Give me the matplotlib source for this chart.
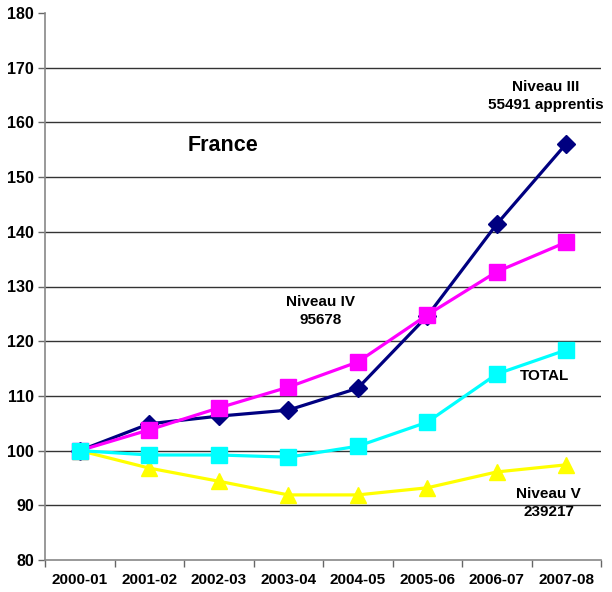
import matplotlib
matplotlib.use("Agg")
import matplotlib.pyplot as plt
import numpy as np

plt.rcParams['font.family'] = ['Liberation Sans', 'DejaVu Sans']

categories = ["2000-01", "2001-02", "2002-03", "2003-04", "2004-05", "2005-06", "2006-07", "2007-08"]
niveau_iii = [100, 104.9, 106.3, 107.4, 111.4, 124.6, 141.4, 156.1]
niveau_iv = [100, 103.8, 107.8, 111.6, 116.2, 124.8, 132.7, 138.1]
total = [100, 99.2, 99.2, 98.8, 100.8, 105.2, 114.0, 118.4]
niveau_v = [100, 96.8, 94.4, 91.9, 91.9, 93.2, 96.1, 97.4]

fig = plt.figure(figsize=(6.12, 5.92), dpi=100)
ax = fig.add_axes([45/612, 32/592, 556/612, 547/592])
x = np.arange(len(categories))

ax.plot(x, niveau_iii, color='#000080', lw=2.3, marker='D', ms=9.5, zorder=3)
ax.plot(x, niveau_iv, color='#FF00FF', lw=2.3, marker='s', ms=11, zorder=4)
ax.plot(x, niveau_v, color='#FFFF00', lw=2.3, marker='^', ms=12, zorder=4)
ax.plot(x, total, color='#00FFFF', lw=2.3, marker='s', ms=12, zorder=5)

ax.set_xlim(-0.5, 7.5)
ax.set_ylim(80, 180)
ax.set_yticks(np.arange(80, 181, 10))
for v in range(90, 180, 10):
    ax.axhline(v, color='#333333', lw=1.0, zorder=1)
ax.set_xticks(x)
ax.set_xticklabels(categories, fontsize=11, fontweight='bold')
ax.set_xticks(np.arange(-0.5, 8, 1), minor=True)
ax.tick_params(axis='x', which='major', length=0, pad=9)
ax.tick_params(axis='x', which='minor', length=5, color='#666666', width=1)
ax.tick_params(axis='y', length=5, color='#666666', width=1, pad=3)
for lab in ax.get_yticklabels():
    lab.set_fontweight('bold')
    lab.set_fontsize(11.5)
ax.spines['top'].set_visible(False)
ax.spines['right'].set_visible(False)
ax.spines['left'].set_color('#888888')
ax.spines['bottom'].set_color('#888888')
ax.spines['left'].set_linewidth(1.2)
ax.spines['bottom'].set_linewidth(1.2)

ax.text(2.06, 155.7, "France", fontsize=15.5, fontweight='bold', ha='center', va='center')
ax.text(6.7, 164.8, "Niveau III\n55491 apprentis", fontsize=11, fontweight='bold', ha='center', va='center', linespacing=1.3)
ax.text(3.47, 125.5, "Niveau IV\n95678", fontsize=11, fontweight='bold', ha='center', va='center', linespacing=1.3)
ax.text(6.69, 113.6, "TOTAL", fontsize=11, fontweight='bold', ha='center', va='center')
ax.text(6.75, 90.4, "Niveau V\n239217", fontsize=11, fontweight='bold', ha='center', va='center', linespacing=1.3)

fig.savefig("out.png", dpi=100)
